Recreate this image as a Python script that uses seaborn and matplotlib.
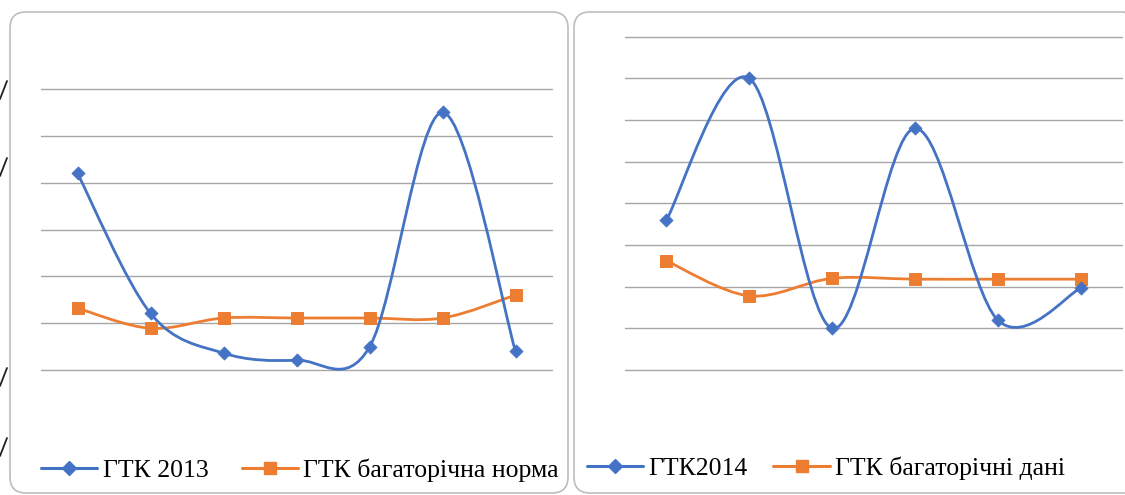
import numpy as np
import pandas as pd
import matplotlib
matplotlib.use("Agg")
import matplotlib.pyplot as plt
import seaborn as sns
from matplotlib.path import Path
from matplotlib.patches import PathPatch, FancyBboxPatch
from matplotlib.lines import Line2D
from matplotlib.transforms import IdentityTransform

# ---------------- data ----------------
periods_2013 = ["1", "2", "3", "4", "5", "6", "7"]
gtk_2013 = [4.20, 1.21, 0.36, 0.21, 0.49, 5.50, 0.40]
norm_2013 = [1.32, 0.89, 1.11, 1.11, 1.11, 1.11, 1.60]

periods_2014 = ["1", "2", "3", "4", "5", "6"]
gtk_2014 = [1.80, 3.50, 0.50, 2.90, 0.60, 0.98]
norm_2014 = [1.31, 0.89, 1.10, 1.09, 1.09, 1.09]

labels_2013 = ["ГТК 2013", "ГТК багаторічна норма"]
labels_2014 = ["ГТК2014", "ГТК багаторічні дані"]

BLUE = "#4472C4"
ORANGE = "#ED7D31"
GRID = "#a6a6a6"

sns.set_theme(style="white")
plt.rcParams["font.family"] = ["Liberation Serif", "DejaVu Serif"]
plt.rcParams["text.color"] = "black"

W, H = 1125, 495
fig = plt.figure(figsize=(W / 100, H / 100), dpi=100)
fig.patch.set_facecolor("white")


def smooth_path(xs, ys):
    """Excel-like smoothed line as cubic Bezier path (Catmull-Rom control points)."""
    pts = np.column_stack([xs, ys]).astype(float)
    n = len(pts)
    verts = [pts[0]]
    codes = [Path.MOVETO]
    for i in range(n - 1):
        p0 = pts[i - 1] if i > 0 else pts[i]
        p1 = pts[i]
        p2 = pts[i + 1]
        p3 = pts[i + 2] if i + 2 < n else pts[i + 1]
        c1 = p1 + (p2 - p0) / 6.0
        c2 = p2 - (p3 - p1) / 6.0
        verts += [c1, c2, p2]
        codes += [Path.CURVE4] * 3
    return Path(verts, codes)


def panel(rect, periods, main, norm, ymax, labels, leg_center, colspace):
    ax = fig.add_axes(rect)
    ax.set_zorder(2)
    x = np.arange(len(periods))
    df = pd.DataFrame({"x": np.concatenate([x, x]),
                       "v": list(main) + list(norm),
                       "s": [labels[0]] * len(x) + [labels[1]] * len(x)})
    ax.set_xlim(-0.5, len(periods) - 0.5)
    ax.set_ylim(0, ymax)
    for yv in np.arange(0, ymax + 0.01, 1 if ymax > 4 else 0.5):
        ax.axhline(yv, color=GRID, lw=1.0, zorder=0, clip_on=False)
    # smoothed lines
    ax.add_patch(PathPatch(smooth_path(x, norm), fill=False, edgecolor=ORANGE,
                           lw=2.0, zorder=2, capstyle="round", clip_on=False))
    ax.add_patch(PathPatch(smooth_path(x, main), fill=False, edgecolor=BLUE,
                           lw=2.0, zorder=3, capstyle="round", clip_on=False))
    # markers
    sns.scatterplot(data=df[df.s == labels[1]], x="x", y="v", marker="s",
                    s=75, color=ORANGE, edgecolor=ORANGE, ax=ax, zorder=4,
                    legend=False)
    sns.scatterplot(data=df[df.s == labels[0]], x="x", y="v", marker="D",
                    s=45, color=BLUE, edgecolor=BLUE, ax=ax, zorder=5,
                    legend=False)
    ax.set_xticks([])
    ax.set_yticks([])
    ax.set_xlabel("")
    ax.set_ylabel("")
    for sp in ax.spines.values():
        sp.set_visible(False)
    ax.patch.set_alpha(0)
    handles = [
        Line2D([], [], color=BLUE, lw=2.2, marker="D", markersize=7),
        Line2D([], [], color=ORANGE, lw=2.2, marker="s", markersize=9),
    ]
    leg = fig.legend(handles, labels, loc="center", bbox_to_anchor=leg_center,
                     ncol=2, frameon=False, fontsize=18.5, handlelength=2.2,
                     handletextpad=0.2, columnspacing=colspace)
    for t in leg.get_texts():
        t.set_color("black")
    return ax


def fx(px):
    return px / W


def fy(py):
    return 1 - py / H


# panel frames
for (x0, x1) in [(10, 568), (574, 1140)]:
    fig.patches.append(FancyBboxPatch((x0, 2), x1 - x0, 481,
                                      boxstyle="round,pad=0,rounding_size=16",
                                      transform=IdentityTransform(),
                                      facecolor="none", edgecolor="#bdbdbd",
                                      lw=1.2, zorder=-1))

# decorative marks on the far left edge
for yy in [90, 167, 377, 447]:
    fig.lines.append(Line2D([0, 7], [H - yy - 9, H - yy + 9], color="#222222",
                            lw=1.3, transform=IdentityTransform()))

panel([fx(41), fy(370), fx(552) - fx(41), fy(89) - fy(370)],
      periods_2013, gtk_2013, norm_2013, 6, labels_2013, (fx(300), fy(470)), 1.3)
panel([fx(625), fy(370), fx(1122) - fx(625), fy(36.7) - fy(370)],
      periods_2014, gtk_2014, norm_2014, 4, labels_2014, (fx(826), fy(468)), 1.0)

fig.savefig("out.png", dpi=100, facecolor="white")
